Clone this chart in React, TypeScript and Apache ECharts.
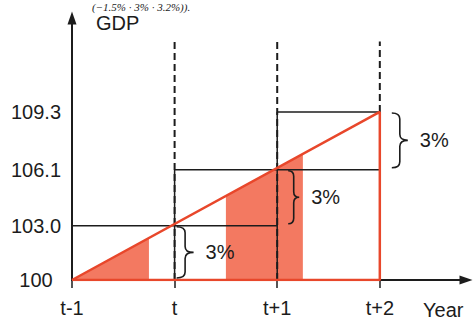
import React, { useEffect, useRef } from "react";
import * as echarts from "echarts";

// ---- data ----
const years = ["t-1", "t", "t+1", "t+2"];
const gdp = [100, 103.0, 106.1, 109.3];
const yTickLabels = ["100", "103.0", "106.1", "109.3"];
const growthLabels = ["3%", "3%", "3%"];
const shadedSpans = [
  [0, 0.75],
  [1.5, 2.25],
];
const guideTop = 113.2; // top of the dashed guide lines (GDP units)
const headerText = "(\u22121.5% \u00b7 3% \u00b7 3.2%)).";

// ---- styles ----
const FONT = '"Liberation Sans", Arial, sans-serif';
const INK = "#1c1c1c";
const RED = "#e8472b";
const SHADE = "rgba(240, 92, 62, 0.82)";
const braceStyle = [
  { dx: 2, w: 17 },
  { dx: 11, w: 11 },
  { dx: 12, w: 16 },
];

export default function App() {
  const ref = useRef<HTMLDivElement>(null);

  useEffect(() => {
    if (!ref.current) return;
    const chart = echarts.init(ref.current, undefined, { renderer: "svg" });

    const last = years.length - 1;
    const diag = (x: number) => gdp[0] + ((gdp[last] - gdp[0]) * x) / last;

    const lineSeries = (data: number[][], lineStyle: any, z: number) => ({
      type: "line",
      data,
      symbol: "none",
      silent: true,
      z,
      lineStyle,
    });

    const solidSegs = [
      [[0, gdp[1]], [2, gdp[1]]],
      [[1, gdp[2]], [3, gdp[2]]],
      [[2, gdp[3]], [3, gdp[3]]],
      [[1, gdp[0]], [1, gdp[2]]],
      [[2, gdp[0]], [2, gdp[3]]],
    ];
    const dashedSegs = [
      [[1, gdp[0]], [1, guideTop]],
      [[2, gdp[0]], [2, guideTop]],
      [[3, gdp[3]], [3, guideTop]],
    ];
    const redPath = [
      [0, gdp[0]],
      [last, gdp[last]],
      [last, gdp[0]],
      [0, gdp[0]],
    ];
    const braceData = [
      [1, gdp[0], gdp[1]],
      [2, gdp[1], gdp[2]],
      [3, gdp[2], gdp[3]],
    ];

    const series: any[] = [];
    shadedSpans.forEach(([a, b]) => {
      series.push({
        type: "line",
        data: [
          [a, diag(a)],
          [b, diag(b)],
        ],
        symbol: "none",
        silent: true,
        z: 1,
        lineStyle: { width: 0 },
        areaStyle: { color: SHADE, opacity: 1, origin: "start" },
      });
    });
    solidSegs.forEach((s) =>
      series.push(lineSeries(s, { color: INK, width: 1.5 }, 2))
    );
    dashedSegs.forEach((s) =>
      series.push(lineSeries(s, { color: INK, width: 2, type: [7, 4] }, 2))
    );
    series.push(lineSeries(redPath, { color: RED, width: 2.5 }, 3));
    series.push({
      type: "custom",
      coordinateSystem: "cartesian2d",
      silent: true,
      z: 4,
      data: braceData,
      encode: { x: 0, y: [1, 2] },
      renderItem: (params: any, api: any) => {
        const i = params.dataIndex;
        const top = api.coord([api.value(0), api.value(2)]);
        const bot = api.coord([api.value(0), api.value(1)]);
        const { dx, w } = braceStyle[i];
        const x0 = top[0] + dx;
        const y0 = top[1] + 1;
        const y1 = bot[1] - 2;
        const xm = x0 + w / 2;
        const ym = (y0 + y1) / 2;
        const r = Math.min(w / 2, 6);
        const d =
          `M${x0},${y0} Q${xm},${y0} ${xm},${y0 + r} L${xm},${ym - r} ` +
          `Q${xm},${ym} ${x0 + w},${ym} Q${xm},${ym} ${xm},${ym + r} ` +
          `L${xm},${y1 - r} Q${xm},${y1} ${x0},${y1}`;
        return {
          type: "group",
          children: [
            {
              type: "path",
              shape: { pathData: d },
              style: { stroke: INK, lineWidth: 1.6, fill: "none" },
            },
            {
              type: "text",
              style: {
                text: growthLabels[i],
                x: x0 + w + 12,
                y: ym,
                fontSize: 20,
                fontFamily: FONT,
                fill: INK,
                verticalAlign: "middle",
                align: "left",
              },
            },
          ],
        };
      },
    });

    chart.setOption({
      animation: false,
      grid: { left: 72, right: 9, top: 18, bottom: 40 },
      xAxis: {
        type: "value",
        min: 0,
        max: 3.84,
        splitLine: { show: false },
        axisLine: {
          onZero: false,
          symbol: ["none", "triangle"],
          symbolSize: [9, 13],
          lineStyle: { color: INK, width: 2 },
        },
        axisTick: {
          customValues: [0, 1, 2, 3],
          length: 8,
          lineStyle: { color: INK, width: 1.5 },
        },
        axisLabel: {
          customValues: [0, 1, 2, 3],
          formatter: (v: number) => years[Math.round(v)],
          margin: 18,
          fontSize: 20,
          fontFamily: FONT,
          color: INK,
        },
      },
      yAxis: {
        type: "value",
        min: 100,
        max: 114.5,
        splitLine: { show: false },
        axisLine: {
          show: true,
          onZero: false,
          symbol: ["none", "triangle"],
          symbolSize: [9, 13],
          lineStyle: { color: INK, width: 2 },
        },
        axisTick: { show: false },
        axisLabel: {
          customValues: gdp,
          formatter: (v: number) => yTickLabels[gdp.indexOf(v)],
          align: "center",
          margin: 36,
          fontSize: 20,
          fontFamily: FONT,
          color: INK,
        },
      },
      graphic: [
        {
          type: "text",
          x: 96,
          y: 23,
          silent: true,
          style: {
            text: "GDP",
            fontSize: 20,
            fontFamily: FONT,
            fill: INK,
            verticalAlign: "middle",
          },
        },
        {
          type: "text",
          x: 423,
          y: 310,
          silent: true,
          style: {
            text: "Year",
            fontSize: 20,
            fontFamily: FONT,
            fill: INK,
            verticalAlign: "middle",
          },
        },
        {
          type: "text",
          x: 92,
          y: 1,
          silent: true,
          style: {
            text: headerText,
            fontSize: 11,
            fontStyle: "italic",
            fontFamily: '"Liberation Serif", "Times New Roman", serif',
            fill: INK,
            verticalAlign: "top",
          },
        },
      ],
      series,
    });

    return () => chart.dispose();
  }, []);

  return (
    <div
      ref={ref}
      style={{ position: "fixed", left: 0, top: 0, width: 475, height: 320, background: "#fff" }}
    />
  );
}
